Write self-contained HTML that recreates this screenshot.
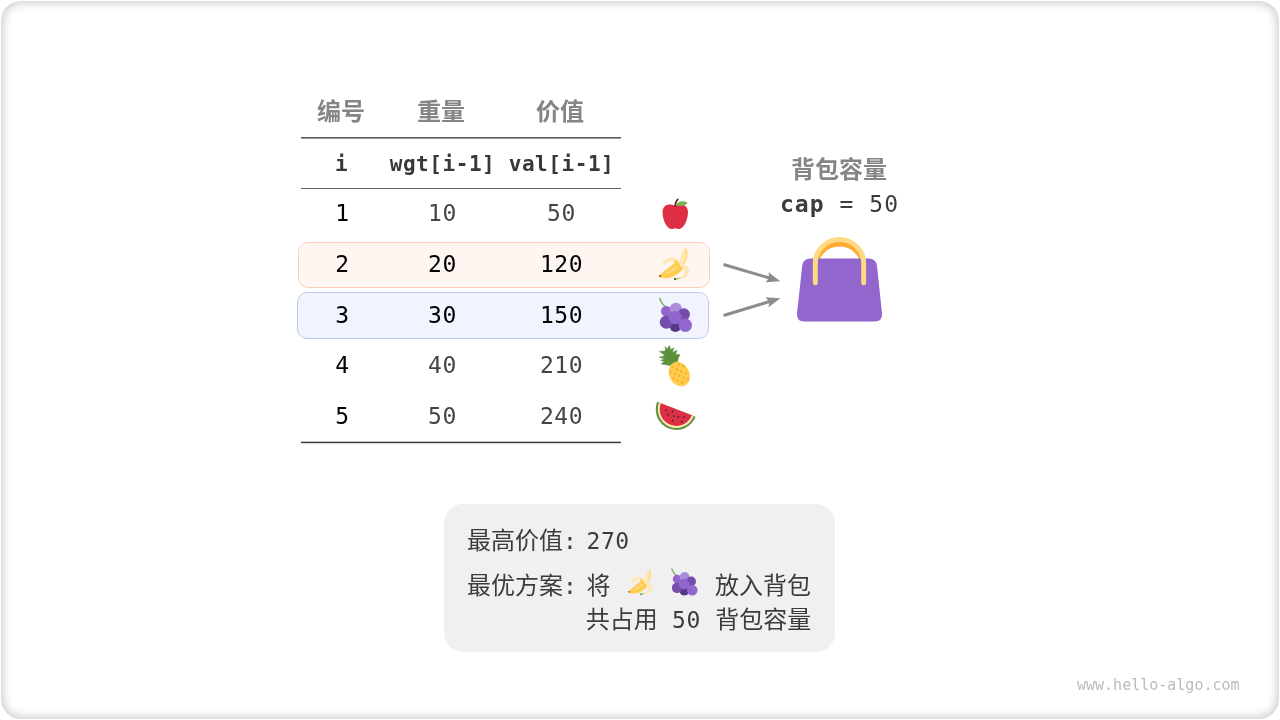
<!DOCTYPE html>
<html lang="zh-CN">
<head>
<meta charset="utf-8">
<title>0-1 背包问题</title>
<style>
*{margin:0;padding:0;box-sizing:border-box}
html,body{width:1280px;height:720px;background:#fff;overflow:hidden}
body{position:relative;font-family:"DejaVu Sans Mono","Liberation Mono","Noto Sans CJK SC",monospace;color:#3c3c3c}
.stage{position:absolute;left:0;top:0;width:1280px;height:720px;will-change:transform}
.card{position:absolute;left:1px;top:1px;width:1278px;height:718px;border-radius:20px;box-shadow:inset 0 0 11.5px rgba(0,0,0,.27);background:#fff}
.t{position:absolute;white-space:pre;line-height:30px;height:30px;font-size:23px;letter-spacing:.55px;text-align:center}
.zh{font-family:"Liberation Sans","Noto Sans CJK SC",sans-serif;letter-spacing:0}
.hd{font-weight:700;color:#858585;font-size:24px}
.mb{font-weight:700;font-size:21px;letter-spacing:.56px;color:#383838}
.c1{left:292.5px;width:100px}
.n{color:#000}
.c2{left:392.5px;width:100px}
.c3{left:511.5px;width:100px}
.k{color:#000}
.g{color:#444}
.ln{position:absolute;left:301px;width:320px;background:#4d4d4d}
.hl{position:absolute;border-radius:10px;border:1px solid}
.box{position:absolute;left:444px;top:504px;width:391px;height:148px;border-radius:19px;background:#f0f0f0}
.bt{position:absolute;white-space:pre;line-height:30px;height:30px;font-size:23px;letter-spacing:.55px;color:#3c3c3c;text-align:left}
.bt .z{font-family:"Liberation Sans","Noto Sans CJK SC",sans-serif;font-size:24px;letter-spacing:0}
.wm{position:absolute;left:1077px;top:675px;font-size:15px;line-height:20px;color:#bbb;white-space:pre}
svg{position:absolute;overflow:visible}
</style>
</head>
<body>
<div class="card"></div>
<div class="stage">

<!-- highlighted rows -->
<div class="hl" style="left:298px;top:242px;width:412px;height:46px;background:#fff5f1;border-color:#ffccbc"></div>
<div class="hl" style="left:297px;top:292px;width:412px;height:47px;background:#f1f4ff;border-color:#bcc8f0"></div>

<!-- table header -->
<div class="t zh hd c1" style="top:97px;left:291px">编号</div>
<div class="t zh hd c2" style="top:97px;left:391px">重量</div>
<div class="t zh hd c3" style="top:97px;left:510px">价值</div>
<div class="ln" style="top:137px;height:2px;background:linear-gradient(#5c5c5c 0 1px,#9a9a9a 1px 2px)"></div>
<div class="t mb c1" style="top:149px;left:291.5px">i</div>
<div class="t mb c2" style="top:149px;left:382.5px;width:120px">wgt[i-1]</div>
<div class="t mb c3" style="top:149px;left:501.5px;width:120px">val[i-1]</div>
<div class="ln" style="top:188px;height:1px;background:#686868"></div>

<!-- rows -->
<div class="t c1 n" style="top:198px">1</div><div class="t c2 g" style="top:198px">10</div><div class="t c3 g" style="top:198px">50</div>
<div class="t c1 n" style="top:249px">2</div><div class="t c2 k" style="top:249px">20</div><div class="t c3 k" style="top:249px">120</div>
<div class="t c1 n" style="top:300px">3</div><div class="t c2 k" style="top:300px">30</div><div class="t c3 k" style="top:300px">150</div>
<div class="t c1 n" style="top:350px">4</div><div class="t c2 g" style="top:350px">40</div><div class="t c3 g" style="top:350px">210</div>
<div class="t c1 n" style="top:401px">5</div><div class="t c2 g" style="top:401px">50</div><div class="t c3 g" style="top:401px">240</div>
<div class="ln" style="top:441px;height:3px;background:linear-gradient(#c0c0c0 0 1px,#404040 1px 2px,#d8d8d8 2px 3px)"></div>


<!-- icons -->
<!-- apple -->
<svg style="left:650px;top:190px" width="50" height="50" viewBox="0 0 720 720"><title>🍎</title>
<g transform="translate(144 122) scale(12.2)">
<path fill="#dd2e44" d="M24 7c-3 0-3.5 1-6 1s-3-1-6-1c-4 0-9 2-9 9 0 11 6 20 10 20 3 0 3-1 5-1s2 1 5 1c4 0 10-9 10-20 0-7-5-9-9-9z"/>
<path fill="#77b255" d="M18.8 8C20.5 4 25.5 1.6 32.6 5C30 8.8 24 9.8 18.8 8z"/>
<path fill="#662113" d="M18 10c-.552 0-1-.448-1-1 0-3.441 1.200-6.615 3.293-8.707.391-.391 1.023-.391 1.414 0s.391 1.023 0 1.414C19.986 3.427 19 6.085 19 9c0 .552-.448 1-1 1z"/>
</g>
</svg>
<!-- banana -->
<svg style="left:650px;top:240px" width="50" height="50" viewBox="0 0 720 720"><title>🍌</title>
<path fill="#ffe8b6" d="M405 330C440 250 460 160 490 120C510 100 535 115 542 150C552 220 535 300 490 350C460 360 420 350 405 330z"/>
<path fill="#ffe8b6" d="M180 352C190 300 240 250 310 245C350 245 385 270 405 300L350 330C320 290 260 300 210 360z"/>
<path fill="#ffe8b6" d="M440 345C500 340 560 380 565 440C565 510 500 565 430 560L420 545C470 530 500 490 490 440C480 400 460 380 440 345z"/>
<path fill="#ffd983" opacity=".75" d="M500 135C525 125 540 150 542 190C545 250 525 310 490 350L465 340C505 290 520 210 500 135z"/>
<path fill="#ffcc4d" d="M345 295C370 285 395 290 400 310C405 340 440 370 475 400C470 430 420 480 350 520C290 550 200 560 150 540C132 530 135 505 155 490C228 428 312 368 352 330C358 320 355 305 345 295z"/>
<path fill="#ffd983" d="M180 500C260 460 330 410 375 375C395 375 400 395 385 415C340 460 260 495 180 500z"/>
<path fill="#a0522d" d="M130 520C130 505 145 500 158 505C162 518 158 532 145 535C135 535 130 528 130 520z"/>
<path fill="#ffcc4d" d="M405 548L440 535L445 550L410 562z"/>
<path fill="#77b255" d="M370 553L408 545L412 560L375 568z"/>
<path fill="#3e721d" d="M345 548L372 548L375 575L348 577z"/>
</svg>
<!-- grapes -->
<svg style="left:650px;top:290px" width="70" height="50" viewBox="0 0 1008 720"><title>🍇</title>
<path fill="none" stroke="#77b255" stroke-width="23" stroke-linecap="round" d="M141 124C155 170 180 208 215 236"/>
<circle cx="365" cy="520" r="84" fill="#553986"/>
<circle cx="235" cy="307" r="77" fill="#9266cc"/>
<circle cx="236" cy="463" r="95" fill="#744eaa"/>
<circle cx="372" cy="270" r="88" fill="#aa8dd8"/>
<circle cx="487" cy="350" r="88" fill="#744eaa"/>
<circle cx="508" cy="508" r="96" fill="#9266cc"/>
<circle cx="362" cy="398" r="95" fill="#9266cc"/>
</svg>
<!-- pineapple -->
<svg style="left:650px;top:340px" width="50" height="50" viewBox="0 0 720 720"><title>🍍</title>
<path fill="#5c913b" stroke="#5c913b" stroke-width="7" stroke-linejoin="round" d="M294 368L160 344L208 311L153 293Q190 280 212 269L130 250Q180 235 215 222Q170 185 136 165Q190 158 221 160Q222 120 215 93Q235 110 247 127Q268 100 279 78Q290 110 298 138Q325 122 348 110Q330 150 322 180Q360 160 390 146Q375 180 370 210Q400 206 432 209Q405 250 399 305z"/>
<ellipse cx="422" cy="490" rx="146" ry="184" transform="rotate(-27 422 490)" fill="#ffcc4d"/>
<g fill="#ffac33">
<circle cx="415" cy="355" r="18"/><circle cx="480" cy="382" r="18"/><circle cx="325" cy="393" r="18"/><circle cx="388" cy="420" r="18"/><circle cx="452" cy="450" r="18"/><circle cx="518" cy="478" r="18"/><circle cx="297" cy="460" r="18"/><circle cx="360" cy="488" r="18"/><circle cx="425" cy="515" r="18"/><circle cx="490" cy="543" r="18"/><circle cx="548" cy="572" r="18"/><circle cx="333" cy="553" r="18"/><circle cx="397" cy="580" r="18"/><circle cx="462" cy="607" r="18"/>
</g>
</svg>
<!-- watermelon -->
<svg style="left:650px;top:390px" width="50" height="50" viewBox="0 0 720 720"><title>🍉</title>
<g transform="translate(380 278) rotate(21.2)">
<path fill="#5c913b" d="M-297 0A297 297 0 0 0 297 0z"/>
<path fill="#ffe8b6" d="M-268 0A268 268 0 0 0 268 0z"/>
<path fill="#dd2e44" d="M-240 0A240 240 0 0 0 240 0z"/>
</g>
<g fill="#292f33">
<ellipse cx="228" cy="292" rx="10" ry="16" transform="rotate(35 228 292)"/>
<ellipse cx="325" cy="310" rx="10" ry="16" transform="rotate(20 325 310)"/>
<ellipse cx="260" cy="358" rx="10" ry="16" transform="rotate(-30 260 358)"/>
<ellipse cx="342" cy="375" rx="10" ry="16" transform="rotate(-35 342 375)"/>
<ellipse cx="410" cy="392" rx="10" ry="16" transform="rotate(-5 410 392)"/>
<ellipse cx="490" cy="390" rx="10" ry="16" transform="rotate(50 490 390)"/>
<ellipse cx="326" cy="443" rx="10" ry="16" transform="rotate(30 326 443)"/>
<ellipse cx="458" cy="460" rx="10" ry="16" transform="rotate(-35 458 460)"/>
</g>
</svg>
<!-- arrows -->
<svg style="left:710px;top:250px" width="80" height="80" viewBox="0 0 720 720">
<g fill="#8c8c8c" stroke="none">
<path d="M125.8 117.1L531.2 237.2L526.3 200.8L632.8 281.4L499.6 291.0L523.5 263.1L118.2 142.9z"/>
<path d="M118.0 577.1L523.7 452.8L499.5 425.2L632.8 433.5L527.0 515.1L531.6 478.7L126.0 602.9z"/>
</g>
</svg>
<!-- handbag -->
<svg style="left:780px;top:225px" width="120" height="110" viewBox="0 0 120 110"><title>👜</title>
<path fill="none" stroke="#ffac33" stroke-width="4.9" d="M35.3 50V43.3A24.2 24.2 0 0 1 83.7 43.3V50"/>
<path fill="#9266cc" d="M30.5 33.5H88.7Q96.3 33.5 97 41L102 88.5Q102.5 96.6 94.5 96.6H24.5Q16.5 96.6 17 88.5L22.2 41Q23 33.5 30.5 33.5z"/>
<path fill="none" stroke="#ffd983" stroke-width="4.9" stroke-linecap="round" d="M35.3 58V38.6A24.2 24.2 0 0 1 83.7 38.6V58"/>
</svg>

<!-- right -->
<div class="t zh hd" style="left:739px;width:200px;top:155px">背包容量</div>
<div class="t" style="left:739.5px;width:200px;top:189px;color:#3c3c3c;letter-spacing:1.05px"><b>cap</b> = 50</div>

<!-- bottom box -->
<div class="box"></div>
<div class="bt" style="left:467px;top:526px"><span class="z">最高价值</span>:</div>
<div class="bt" style="left:586.5px;top:526px">270</div>
<div class="bt" style="left:467px;top:571px"><span class="z">最优方案</span>:</div>
<div class="bt" style="left:586.5px;top:571px"><span class="z">将</span></div>
<div class="bt" style="left:715px;top:571px"><span class="z">放入背包</span></div>
<div class="bt" style="left:585.7px;top:605px"><span class="z">共占用</span> 50 <span class="z">背包容量</span></div>

<!-- inline emoji -->
<svg style="left:621.2px;top:563px" width="40" height="40" viewBox="0 0 720 720"><title>🍌</title>
<path fill="#ffe8b6" d="M405 330C440 250 460 160 490 120C510 100 535 115 542 150C552 220 535 300 490 350C460 360 420 350 405 330z"/>
<path fill="#ffe8b6" d="M180 352C190 300 240 250 310 245C350 245 385 270 405 300L350 330C320 290 260 300 210 360z"/>
<path fill="#ffe8b6" d="M440 345C500 340 560 380 565 440C565 510 500 565 430 560L420 545C470 530 500 490 490 440C480 400 460 380 440 345z"/>
<path fill="#ffd983" opacity=".75" d="M500 135C525 125 540 150 542 190C545 250 525 310 490 350L465 340C505 290 520 210 500 135z"/>
<path fill="#ffcc4d" d="M345 295C370 285 395 290 400 310C405 340 440 370 475 400C470 430 420 480 350 520C290 550 200 560 150 540C132 530 135 505 155 490C228 428 312 368 352 330C358 320 355 305 345 295z"/>
<path fill="#ffd983" d="M180 500C260 460 330 410 375 375C395 375 400 395 385 415C340 460 260 495 180 500z"/>
<path fill="#a0522d" d="M130 520C130 505 145 500 158 505C162 518 158 532 145 535C135 535 130 528 130 520z"/>
<path fill="#ffcc4d" d="M405 548L440 535L445 550L410 562z"/>
<path fill="#77b255" d="M370 553L408 545L412 560L375 568z"/>
<path fill="#3e721d" d="M345 548L372 548L375 575L348 577z"/>
</svg>
<svg style="left:664.1px;top:561.5px" width="56" height="40" viewBox="0 0 1008 720"><title>🍇</title>
<path fill="none" stroke="#77b255" stroke-width="23" stroke-linecap="round" d="M141 124C155 170 180 208 215 236"/>
<circle cx="365" cy="520" r="84" fill="#553986"/>
<circle cx="235" cy="307" r="77" fill="#9266cc"/>
<circle cx="236" cy="463" r="95" fill="#744eaa"/>
<circle cx="372" cy="270" r="88" fill="#aa8dd8"/>
<circle cx="487" cy="350" r="88" fill="#744eaa"/>
<circle cx="508" cy="508" r="96" fill="#9266cc"/>
<circle cx="362" cy="398" r="95" fill="#9266cc"/>
</svg>
<div class="wm">www.hello-algo.com</div>
</div>
</body>
</html>
